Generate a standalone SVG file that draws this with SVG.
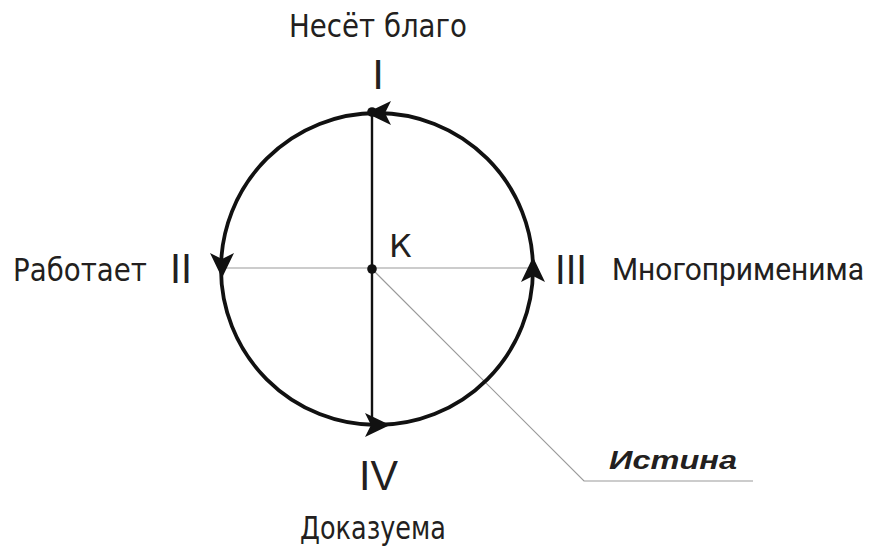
<svg xmlns="http://www.w3.org/2000/svg" xmlns:xlink="http://www.w3.org/1999/xlink" width="874" height="546" viewBox="0 0 874 546">
<style>
.lbl{font-family:"DejaVu Sans","Noto Sans",sans-serif;font-size:32px;fill:#231f20}
.lbr{font-family:Roboto,"DejaVu Sans",sans-serif;font-size:31px;fill:#231f20}
.num{font-family:"Liberation Sans",Arial,sans-serif;font-size:42px;fill:#231f20}
.ist{font-family:"Liberation Sans",Arial,sans-serif;font-size:25px;font-weight:bold;font-style:italic;fill:#231f20}
.thin{stroke:#9a9a9a;stroke-width:1.2;fill:none}
</style>
<defs>
<path id="ah" d="M0,0 L-25,-12 L-19,0 L-25,12 Z" fill="#111"/>
</defs>
<rect width="874" height="546" fill="#fff"/>
<g id="connectors">
<line class="thin" x1="221" y1="268" x2="533" y2="268" stroke-width="1.6"/>
<polyline class="thin" points="372,269 584,481 753,481"/>
<circle cx="377" cy="269" r="156" fill="none" stroke="#111" stroke-width="3.8"/>
<line x1="372" y1="112" x2="372" y2="425" stroke="#111" stroke-width="2.4"/>
<use xlink:href="#ah" transform="translate(366,113) rotate(180)"/>
<use xlink:href="#ah" transform="translate(222,278) rotate(90)"/>
<use xlink:href="#ah" transform="translate(533,257) rotate(-90)"/>
<use xlink:href="#ah" transform="translate(390,425)"/>
<circle cx="372" cy="112" r="4.8" fill="#111"/>
<circle cx="372" cy="269" r="4.8" fill="#111"/>
</g>
<g id="node-I">
<text class="num" x="378" y="89" text-anchor="middle">I</text>
<text class="lbl" x="289" y="37" textLength="178" lengthAdjust="spacingAndGlyphs">Несёт благо</text>
</g>
<g id="node-II">
<text class="num" x="170" y="283" textLength="22" lengthAdjust="spacingAndGlyphs">II</text>
<text class="lbl" x="13" y="281" textLength="134" lengthAdjust="spacingAndGlyphs">Работает</text>
</g>
<g id="node-III">
<text class="num" x="555" y="284" textLength="32" lengthAdjust="spacingAndGlyphs">III</text>
<text class="lbr" x="612" y="280" textLength="252" lengthAdjust="spacingAndGlyphs">Многоприменима</text>
</g>
<g id="node-IV">
<text class="num" x="359" y="490" textLength="39" lengthAdjust="spacingAndGlyphs">IV</text>
<text class="lbl" x="300" y="539" textLength="146" lengthAdjust="spacingAndGlyphs">Доказуема</text>
</g>
<g id="node-K">
<text class="lbl" x="389" y="257">К</text>
</g>
<g id="node-istina">
<text class="ist" x="609" y="469" textLength="128" lengthAdjust="spacingAndGlyphs">Истина</text>
</g>
</svg>
